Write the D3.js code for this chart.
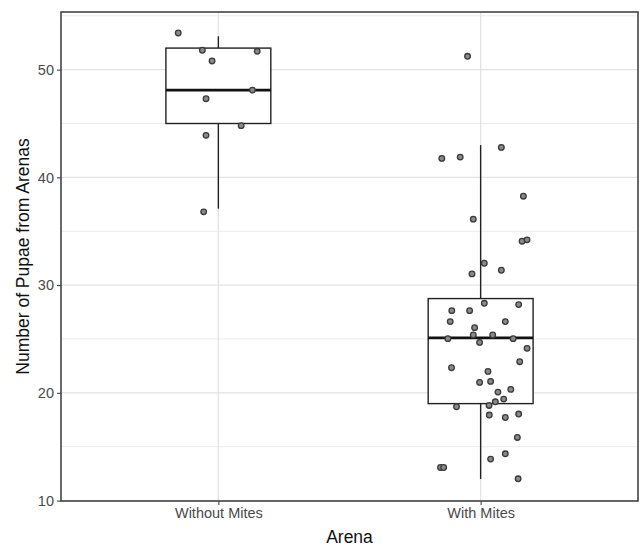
<!DOCTYPE html>
<html lang="en">
  <head>
    <meta charset="utf-8">
    <title>Pupae from Arenas</title>
    <script src="https://cdn.jsdelivr.net/npm/d3@7"></script>
  </head>
  <style>
    body { margin: 0; background: #fff; }
    .axis text { font-family: "Liberation Sans", Arial, sans-serif; font-size: 14.5px; fill: #4a4a4a; }
    .axis line { stroke: #333; }
    .axis path { display: none; }
    .title { font-family: "Liberation Sans", Arial, sans-serif; font-size: 17.5px; fill: #111; }
  </style>
  <body>
    <div id="svg-area"></div>
    <script>
      const svg_width = 641;
      const svg_height = 547;
      const margin = {top: 12, right: 3, bottom: 46, left: 61};

      // categories and box statistics
      const arenas = ['Without Mites', 'With Mites'];
      const q1 = [45.0, 19.0];
      const medians = [48.1, 25.1];
      const q3 = [52.0, 28.75];
      const whisker_low = [37.1, 12.0];
      const whisker_high = [53.1, 43.0];
      const y_ticks = [10, 20, 30, 40, 50];

      // jittered points: value and horizontal jitter (in category units)
      const without_values = [53.4, 51.8, 51.7, 50.8, 48.1, 47.3, 44.8, 43.9, 36.8];
      const without_jitter = [-0.153, -0.061, 0.148, -0.024, 0.130, -0.047, 0.087, -0.047, -0.056];
      const with_values = [51.24, 42.78, 41.76, 41.88, 38.25, 36.12, 34.07, 34.2, 32.03, 31.38, 31.04,
        28.31, 28.19, 27.63, 27.63, 26.61, 26.61, 26.05, 25.37, 25.37, 25.03, 25.03, 24.68, 24.13,
        22.89, 22.33, 21.99, 20.97, 21.06, 20.32, 20.07, 19.42, 19.17, 18.83, 18.71, 17.94, 17.71,
        18.03, 15.86, 14.34, 13.85, 13.07, 13.07, 12.02];
      const with_jitter = [-0.05, 0.079, -0.148, -0.078, 0.163, -0.028, 0.158, 0.177, 0.014, 0.079, -0.033,
        0.014, 0.145, -0.110, -0.042, -0.116, 0.094, -0.023, -0.028, 0.046, -0.125, 0.124, -0.004, 0.177,
        0.149, -0.111, 0.028, -0.004, 0.038, 0.115, 0.066, 0.088, 0.056, 0.032, -0.092, 0.033, 0.094,
        0.145, 0.140, 0.094, 0.038, -0.153, -0.141, 0.143];

      const points = [];
      without_values.forEach((v, i) => points.push({g: 0, v: v, j: without_jitter[i]}));
      with_values.forEach((v, i) => points.push({g: 1, v: v, j: with_jitter[i]}));

      const svg = d3.select('#svg-area')
        .append('svg')
        .attr('width', svg_width)
        .attr('height', svg_height);

      const pw = svg_width - margin.left - margin.right;
      const ph = svg_height - margin.top - margin.bottom;

      // discrete positions 1 and 2 with ggplot-style 0.6 padding
      const x_scale = d3.scaleLinear()
        .domain([0.4, 2.6])
        .range([margin.left, margin.left + pw]);

      const y_scale = d3.scaleLinear()
        .domain([9.96, 55.35])
        .range([margin.top + ph, margin.top]);

      //grid
      const minor = [15, 25, 35, 45, 55];
      svg.append('g').selectAll('line')
        .data(minor)
        .enter().append('line')
        .attr('x1', margin.left).attr('x2', margin.left + pw)
        .attr('y1', d => y_scale(d)).attr('y2', d => y_scale(d))
        .attr('stroke', '#e9e9e9').attr('stroke-width', 0.9);
      svg.append('g').selectAll('line')
        .data(y_ticks)
        .enter().append('line')
        .attr('x1', margin.left).attr('x2', margin.left + pw)
        .attr('y1', d => y_scale(d)).attr('y2', d => y_scale(d))
        .attr('stroke', '#e3e3e3').attr('stroke-width', 1.3);
      svg.append('g').selectAll('line')
        .data(arenas)
        .enter().append('line')
        .attr('x1', (d, i) => x_scale(i + 1)).attr('x2', (d, i) => x_scale(i + 1))
        .attr('y1', margin.top).attr('y2', margin.top + ph)
        .attr('stroke', '#e3e3e3').attr('stroke-width', 1.3);

      //boxes
      const box_w = 0.4;
      const boxes = svg.append('g').selectAll('g')
        .data(arenas)
        .enter().append('g');
      boxes.append('line')
        .attr('x1', (d, i) => x_scale(i + 1)).attr('x2', (d, i) => x_scale(i + 1))
        .attr('y1', (d, i) => y_scale(whisker_high[i])).attr('y2', (d, i) => y_scale(q3[i]))
        .attr('stroke', '#222').attr('stroke-width', 1.4);
      boxes.append('line')
        .attr('x1', (d, i) => x_scale(i + 1)).attr('x2', (d, i) => x_scale(i + 1))
        .attr('y1', (d, i) => y_scale(q1[i])).attr('y2', (d, i) => y_scale(whisker_low[i]))
        .attr('stroke', '#222').attr('stroke-width', 1.4);
      boxes.append('rect')
        .attr('x', (d, i) => x_scale(i + 1 - box_w / 2))
        .attr('width', x_scale(1 + box_w / 2) - x_scale(1 - box_w / 2))
        .attr('y', (d, i) => y_scale(q3[i]))
        .attr('height', (d, i) => y_scale(q1[i]) - y_scale(q3[i]))
        .attr('fill', 'white').attr('stroke', '#222').attr('stroke-width', 1.4);
      boxes.append('line')
        .attr('x1', (d, i) => x_scale(i + 1 - box_w / 2)).attr('x2', (d, i) => x_scale(i + 1 + box_w / 2))
        .attr('y1', (d, i) => y_scale(medians[i])).attr('y2', (d, i) => y_scale(medians[i]))
        .attr('stroke', '#111').attr('stroke-width', 2.6);

      //points
      svg.append('g').selectAll('circle')
        .data(points)
        .enter().append('circle')
        .attr('cx', d => x_scale(d.g + 1 + d.j))
        .attr('cy', d => y_scale(d.v))
        .attr('r', 2.8)
        .attr('fill', '#8a8a8a')
        .attr('stroke', '#3a3a3a')
        .attr('stroke-width', 1.3);

      //axes
      const y_axis = d3.axisLeft(y_scale).tickValues(y_ticks).tickSize(4).tickPadding(3);
      svg.append('g')
        .attr('class', 'axis')
        .attr('transform', `translate(${margin.left},0)`)
        .call(y_axis);

      const x_axis = d3.axisBottom(x_scale).tickValues([1, 2]).tickFormat((d) => arenas[d - 1]).tickSize(4).tickPadding(3);
      svg.append('g')
        .attr('class', 'axis')
        .attr('transform', `translate(0,${margin.top + ph})`)
        .call(x_axis);

      //panel border
      svg.append('rect')
        .attr('x', margin.left).attr('y', margin.top)
        .attr('width', pw).attr('height', ph)
        .attr('fill', 'none').attr('stroke', '#444').attr('stroke-width', 1.6);

      //titles
      svg.append('text')
        .attr('class', 'title')
        .attr('x', margin.left + pw / 2)
        .attr('y', svg_height - 4)
        .attr('text-anchor', 'middle')
        .text('Arena');
      svg.append('text')
        .attr('class', 'title')
        .attr('transform', `translate(29,${margin.top + ph / 2}) rotate(-90)`)
        .attr('text-anchor', 'middle')
        .text('Number of Pupae from Arenas');
    </script>
  </body>
</html>
